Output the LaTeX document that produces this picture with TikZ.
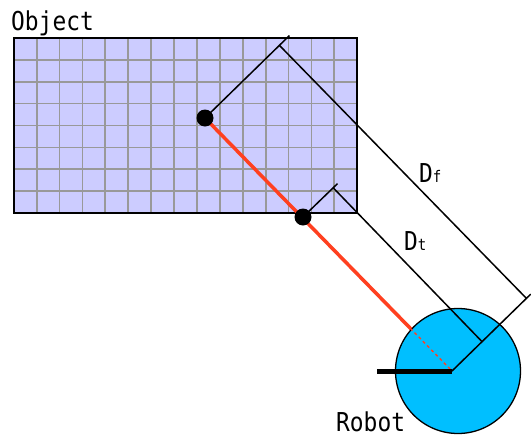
\documentclass[tikz,border=0pt]{standalone}
\usepackage{fontspec}
\newfontfamily\tagfont[FakeStretch=0.88]{DejaVu Sans Mono}
\usetikzlibrary{calc}
\definecolor{gridfill}{RGB}{204,204,255}
\definecolor{gridgray}{RGB}{153,153,153}
\definecolor{robotblue}{RGB}{0,191,255}
\definecolor{trackred}{RGB}{255,64,32}
\newcommand\subsize{\fontsize{16}{16}\selectfont}
\tikzset{
  objbox/.style={
    fill=gridfill,
    minimum width=343pt,
    minimum height=175pt,
    inner sep=0pt
  },
  gridline/.style={draw=gridgray, line width=1.8pt},
  boxframe/.style={draw=black, line width=1.8pt},
  contact/.style={circle, fill=black, minimum size=17pt, inner sep=0pt},
  robotbody/.style={
    circle,
    draw=black,
    line width=1.3pt,
    fill=robotblue,
    minimum size=125pt,
    inner sep=0pt
  },
  redline/.style={draw=trackred, line width=3.5pt},
  dimline/.style={draw=black, line width=1.5pt},
  tag/.style={font=\tagfont\fontsize{26}{26}\selectfont, inner sep=0pt, anchor=base west}
}

\begin{document}
\begin{tikzpicture}[x=1pt, y=-1pt]
\useasboundingbox (0,0) rectangle (531,437);

% object with its grid
\node[objbox] (object) at (185.5,125.5) {};
\foreach \i in {1,...,14}
  \draw[gridline] ($(object.north west)!\i/15!(object.north east)$) -- ($(object.south west)!\i/15!(object.south east)$);
\foreach \j in {1,...,7}
  \draw[gridline] ($(object.north west)!\j/8!(object.south west)$) -- ($(object.north east)!\j/8!(object.south east)$);
\draw[boxframe] (object.north west) rectangle (object.south east);
\node[tag] (objlabel) at (11,30) {Object};

\coordinate (robot) at (452,371);
\coordinate (far) at (205,118);
\coordinate (near) at (303,217);
\coordinate (heading) at (377,371);

% line of sight and robot
\draw[redline] (far) -- (robot);
\node[robotbody] (body) at (458,371) {};
\draw[trackred, line width=1.4pt, dashed] (far) -- (robot);

% dimensions
\coordinate (fext) at ($(far)!118pt!90:(robot)$);
\coordinate (ffar) at ($(far)!104pt!90:(robot)$);
\coordinate (rext) at ($(robot)!110pt!-90:(far)$);
\coordinate (frob) at ($(robot)!104pt!-90:(far)$);
\coordinate (tnearext) at ($(near)!48pt!90:(robot)$);
\coordinate (tnear) at ($(near)!42pt!90:(robot)$);
\coordinate (trob) at ($(robot)!42pt!-90:(far)$);
\draw[dimline] (far) -- (fext);
\draw[dimline] (near) -- (tnearext);
\draw[dimline] (robot) -- (rext);
\draw[dimline] (ffar) -- (frob);
\draw[dimline] (tnear) -- (trob);

\draw[line width=5pt] (heading) -- (robot);
\node[contact] (farmark) at (far) {};
\node[contact] (nearmark) at (near) {};

\node[tag] (dflabel) at (419,182) {D{\subsize f}};
\node[tag] (dtlabel) at (404,250) {D{\subsize t}};
\node[tag] (robotlabel) at (336,431) {Robot};
\end{tikzpicture}
\end{document}
